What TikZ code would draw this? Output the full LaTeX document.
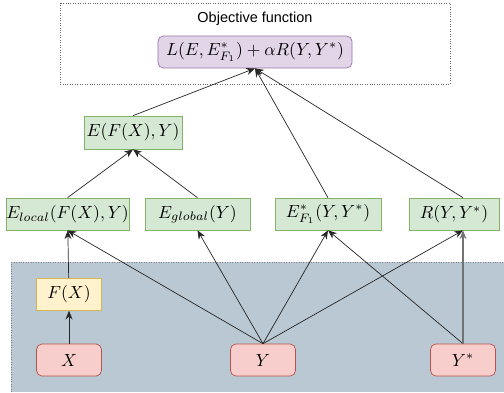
\documentclass[tikz,border=0pt]{standalone}
\usepackage{amsmath,amssymb}
\usepackage{fontspec}
\setsansfont{Liberation Sans}
\usetikzlibrary{calc,
arrows.meta,
positioning}

\definecolor{bgblue}{HTML}{BAC8D3}
\definecolor{grfill}{HTML}{D5E8D4}
\definecolor{grline}{HTML}{82B366}
\definecolor{rdfill}{HTML}{F8CECC}
\definecolor{rdline}{HTML}{B85450}
\definecolor{ylfill}{HTML}{FFF2CC}
\definecolor{ylline}{HTML}{D6B656}
\definecolor{pufill}{HTML}{E1D5E7}
\definecolor{puline}{HTML}{9673A6}

\begin{document}
\begin{tikzpicture}[
  x=0.57pt, y=-0.57pt,
  every node/.style={inner sep=0pt},
  term/.style={draw=grline, fill=grfill, minimum height=18.2pt},
  input/.style={draw=rdline, fill=rdfill, rounded corners=3pt,
    minimum width=37pt, minimum height=18.2pt},
  edge/.style={-{Stealth[length=5pt,width=4pt]}, thin, black!85}
]

  \useasboundingbox (0,0) rectangle (504,392);

  % data region
  \fill [bgblue] (11,262) rectangle (504,392);
  \draw [densely dotted, gray] (11,392) -- (11,262) -- (504,262);

  % objective
  \draw [densely dotted, gray!80!black] (60,3) rectangle (450,84);
  \node [font=\sffamily\fontsize{8.25}{10}\selectfont] (objlb) at (255,19) {Objective function};
  \node [
    draw=puline,
    fill=pufill,
    rounded corners=3pt,
    minimum width = 110.6pt,
    minimum height = 18.2pt] (obj) at (255,52) {$L(E,E^{*}_{F_1})+\alpha R(Y,Y^{*})$};

  % inputs
  \node [input] (x) at (69,360) {$X$};
  \node [input] (y) at (263,360) {$Y$};
  \node [input] (ys) at (463,360) {$Y^{*}$};
  \node [
    draw=ylline,
    fill=ylfill,
    minimum width = 37pt,
    minimum height = 18.2pt,
    above = 18.8pt of x
  ] (fx) {$F(X)$};

  % terms
  \node [term, minimum width = 70pt] (eloc) at (67.5,214) {$E_{local}(F(X),Y)$};
  \node [term, minimum width = 60pt] (eglob) at (197.5,214) {$E_{global}(Y)$};
  \node [term, minimum width = 60.4pt] (ef) at (328,214) {$E^{*}_{F_1}(Y,Y^{*})$};
  \node [term, minimum width = 51.3pt] (reg) at (454,214) {$R(Y,Y^{*})$};
  \node [term, minimum width = 55.9pt, minimum height = 18.8pt] (efx) at (133,132.5) {$E(F(X),Y)$};

  \coordinate (reg_in) at (ys.north |- reg.south);
  \coordinate (reg_out) at (ys.north |- reg.north);

  \draw [edge] (x) -- (fx);
  \draw [edge] (fx) -- (eloc);
  \foreach \t in {eloc,eglob,ef} {
    \draw [edge] (y.north) -- (\t.south);
  }
  \draw [edge] (y.north) -- (reg_in);
  \draw [edge] (ys.north) -- (ef.south);
  \draw [edge, gray!90!black, line width=0.7pt] (ys.north) -- (reg_in);

  \draw [edge] (eloc.north) -- (efx.south);
  \draw [edge] (eglob.north) -- (efx.south);
  \draw [edge] (efx.north) -- (obj.south);
  \draw [edge] (ef.north) -- (obj.south);
  \draw [edge] (reg_out) -- (obj.south);

\end{tikzpicture}
\end{document}
